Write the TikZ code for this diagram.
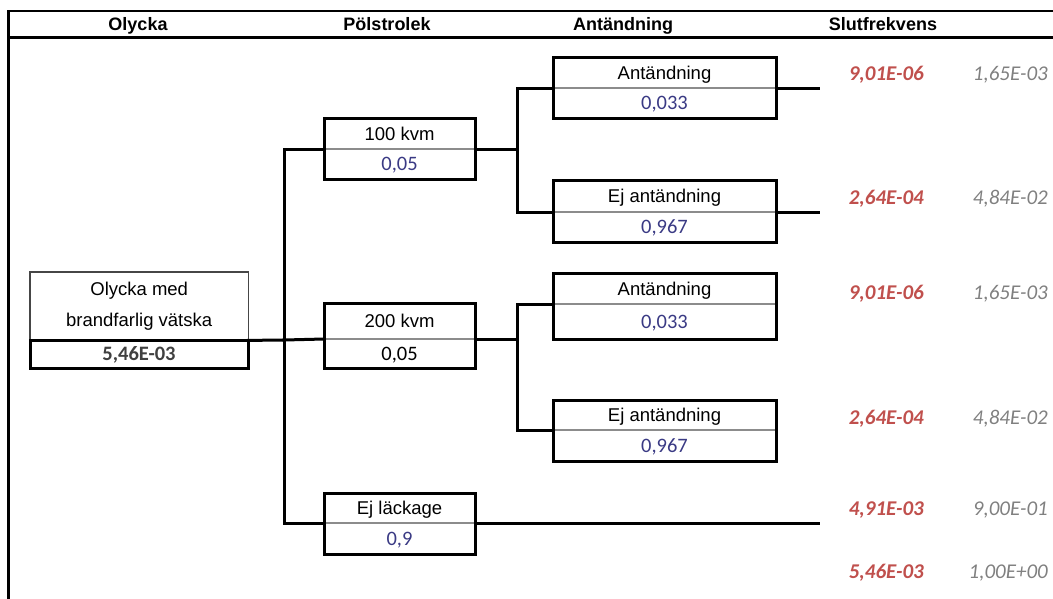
\documentclass[tikz,border=0pt]{standalone}
\usepackage{fontspec}
\setmainfont{Liberation Sans}
\newfontfamily\carl{Carlito}

\definecolor{probblue}{RGB}{58,58,132}
\definecolor{freqred}{RGB}{192,80,77}
\definecolor{freqgray}{RGB}{128,128,128}
\definecolor{divgray}{RGB}{140,140,140}
\definecolor{edgegray}{RGB}{70,70,70}
\definecolor{totgray}{RGB}{64,64,64}

\tikzset{
  frameline/.style={line width=2.5pt, black, line cap=rect},
  conn/.style={line width=3pt, black, line cap=rect},
  boxline/.style={line width=3pt, black},
  divline/.style={line width=2pt, draw=divgray},
  part/.style={inner sep=0pt, outer sep=0pt, text height=13pt, text depth=0pt,
    font=\fontsize{18.5}{31}\selectfont},
  valtext/.style={text height=13pt, text depth=0pt, font=\carl\fontsize{20.5}{24}\selectfont},
  hdr/.style={inner sep=0pt, anchor=base, font=\bfseries\fontsize{18}{20}\selectfont},
  fred/.style={inner sep=0pt, anchor=base east, text=freqred, font=\carl\bfseries\itshape\fontsize{21}{24}\selectfont},
  fgray/.style={inner sep=0pt, anchor=base east, text=freqgray, font=\carl\itshape\fontsize{21}{24}\selectfont},
}

% event box: name, left, top, right, divider, bottom, label, value, value colour
\newcommand\evbox[9]{%
  \node[part, anchor=north west, minimum width={#4-#2}, minimum height={#5-#3}] (#1-t) at (#2,#3) {#7};
  \node[part, valtext, anchor=north west, minimum width={#4-#2}, minimum height={#6-#5}, text=#9] (#1-b) at (#2,#5) {#8};
  \draw[divline] (#1-t.south west) -- (#1-t.south east);
  \draw[boxline] (#1-t.north west) rectangle (#1-b.south east);
}

\begin{document}
\begin{tikzpicture}[x=1pt, y=-1pt]
\useasboundingbox (0,0) rectangle (1053,598);

% table frame and header row
\draw[frameline] (8.5,598) -- (8.5,11) -- (1053,11);
\draw[frameline] (8.5,37.5) -- (1053,37.5);
\node[hdr] (h1) at (138,30) {Olycka};
\node[hdr] (h2) at (387,30) {Pölstrolek};
\node[hdr] (h3) at (623,30) {Antändning};
\node[hdr] (h4) at (883,30) {Slutfrekvens};

% initiating event
\node[inner sep=0pt, align=center, anchor=north west, minimum width=218, minimum height=68,
  font=\fontsize{18.5}{31}\selectfont] (m-t) at (30,272) {Olycka med\\brandfarlig vätska};
\node[part, valtext, anchor=north west, minimum width=218, minimum height=28, text=totgray] (m-b) at (30,340) {\textbf{5,46E-03}};
\draw[line width=1.6pt, draw=edgegray] (m-t.south west) -- (m-t.north west) -- (m-t.north east) -- (m-t.south east);
\draw[boxline] (m-t.south west) rectangle (m-b.south east);

% pool size
\evbox{p1}{324}{118}{475}{149}{179}{100 kvm}{0,05}{probblue}
\evbox{p2}{324}{303}{475}{339}{368}{200 kvm}{0,05}{black}
\evbox{p3}{324}{493}{475}{523}{554}{Ej läckage}{0,9}{probblue}

% ignition
\evbox{a1}{553}{57}{776}{88}{118}{Antändning}{0,033}{probblue}
\evbox{a2}{553}{180}{776}{212}{242}{Ej antändning}{0,967}{probblue}
\evbox{a3}{553}{273}{776}{304}{339}{Antändning}{0,033}{probblue}
\evbox{a4}{553}{400}{776}{430}{461}{Ej antändning}{0,967}{probblue}

% branching points and line ends
\coordinate (tr) at (284,340);
\coordinate (b1) at (517,149);
\coordinate (b2) at (517,339);
\coordinate (e1) at (818,88);
\coordinate (e2) at (818,212);
\coordinate (e5) at (818,523);

% connectors
\draw[conn] (m-t.south east) -- (tr);
\draw[conn] (p1-t.south west) -| (tr) |- (p3-t.south west);
\draw[conn] (tr) -- (p2-t.south west);
\draw[conn] (p1-t.south east) -- (b1);
\draw[conn] (a1-t.south west) -| (b1) |- (a2-t.south west);
\draw[conn] (p2-t.south east) -- (b2);
\draw[conn] (a3-t.south west) -| (b2) |- (a4-t.south west);
\draw[conn] (a1-t.south east) -- (e1);
\draw[conn] (a2-t.south east) -- (e2);
\draw[conn] (p3-t.south east) -- (e5);

% end frequencies
\node[fred] (f1r) at (924,80) {9,01E-06};
\node[fgray] (f1g) at (1048,80) {1,65E-03};
\node[fred] (f2r) at (924,204) {2,64E-04};
\node[fgray] (f2g) at (1048,204) {4,84E-02};
\node[fred] (f3r) at (924,299) {9,01E-06};
\node[fgray] (f3g) at (1048,299) {1,65E-03};
\node[fred] (f4r) at (924,424) {2,64E-04};
\node[fgray] (f4g) at (1048,424) {4,84E-02};
\node[fred] (f5r) at (924,515) {4,91E-03};
\node[fgray] (f5g) at (1048,515) {9,00E-01};
\node[fred] (f6r) at (924,578) {5,46E-03};
\node[fgray] (f6g) at (1048,578) {1,00E+00};
\end{tikzpicture}
\end{document}
